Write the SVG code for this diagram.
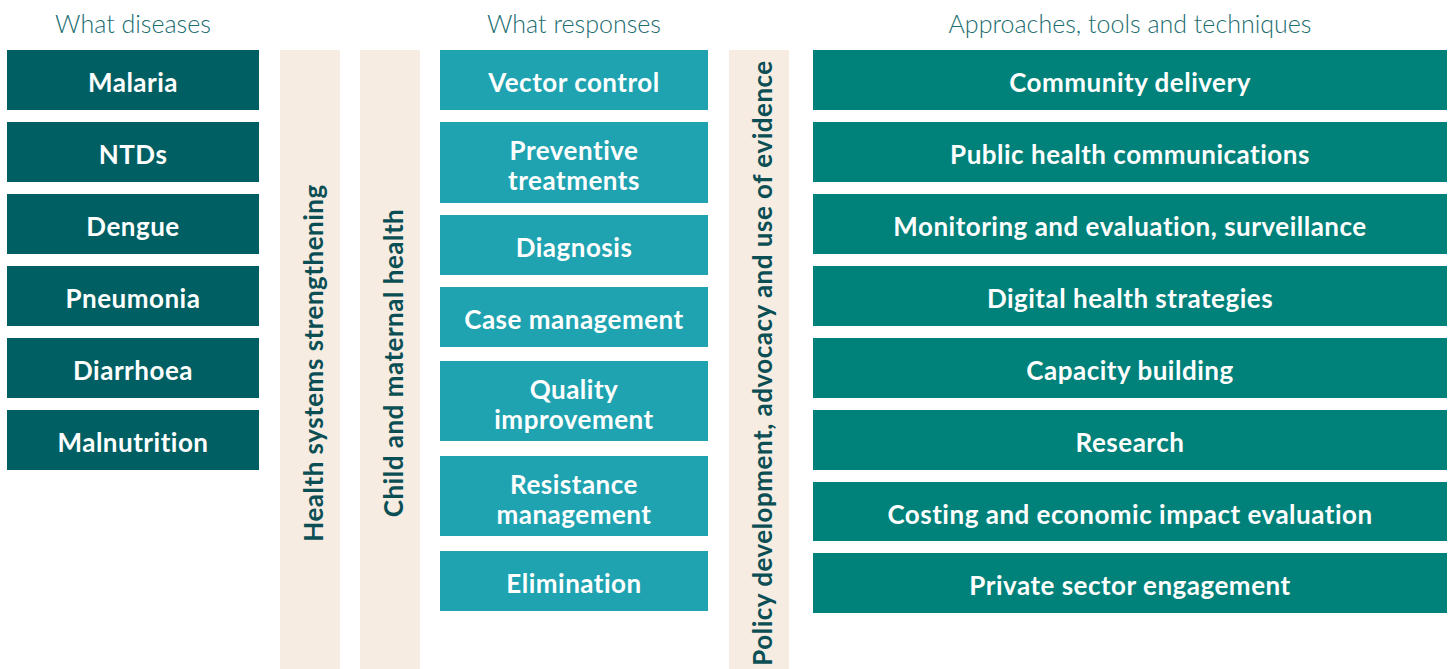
<svg xmlns="http://www.w3.org/2000/svg" width="1448" height="669" viewBox="0 0 1448 669">
<style>
.hd{font-family:Lato,"Open Sans","Liberation Sans",sans-serif;font-weight:300;font-size:25px;fill:#1b6d70;text-anchor:middle}
.t{font-family:Lato,"Open Sans","Liberation Sans",sans-serif;font-weight:700;font-size:26px;letter-spacing:0.5px;fill:#ffffff;text-anchor:middle;dominant-baseline:central}
.v{font-family:Lato,"Open Sans","Liberation Sans",sans-serif;font-weight:700;font-size:26px;letter-spacing:0.5px;fill:#0b4f55;text-anchor:middle;dominant-baseline:central}
.d{fill:#005f63}.r{fill:#1fa3b1}.a{fill:#00817a}.b{fill:#f6ece2}
</style>
<rect width="1448" height="669" fill="#ffffff"/>
<g id="headings">
<text class="hd" x="133" y="33">What diseases</text>
<text class="hd" x="574" y="33">What responses</text>
<text class="hd" x="1130" y="33">Approaches, tools and techniques</text>
</g>
<g id="diseases">
<g id="d1"><rect class="d" x="7" y="50" width="252" height="60"/><text class="t" x="133" y="82">Malaria</text></g>
<g id="d2"><rect class="d" x="7" y="122" width="252" height="60"/><text class="t" x="133" y="154">NTDs</text></g>
<g id="d3"><rect class="d" x="7" y="194" width="252" height="60"/><text class="t" x="133" y="226">Dengue</text></g>
<g id="d4"><rect class="d" x="7" y="266" width="252" height="60"/><text class="t" x="133" y="298">Pneumonia</text></g>
<g id="d5"><rect class="d" x="7" y="338" width="252" height="60"/><text class="t" x="133" y="370">Diarrhoea</text></g>
<g id="d6"><rect class="d" x="7" y="410" width="252" height="60"/><text class="t" x="133" y="442">Malnutrition</text></g>
</g>
<g id="bar-hss"><rect class="b" x="280" y="50" width="60" height="619"/><text class="v" transform="translate(313,363) rotate(-90)">Health systems strengthening</text></g>
<g id="bar-cmh"><rect class="b" x="360" y="50" width="60" height="619"/><text class="v" transform="translate(393,363) rotate(-90)">Child and maternal health</text></g>
<g id="responses">
<g id="r1"><rect class="r" x="440" y="50" width="268" height="60"/><text class="t" x="574" y="82">Vector control</text></g>
<g id="r2"><rect class="r" x="440" y="122" width="268" height="81"/><text class="t" x="574" y="150">Preventive</text><text class="t" x="574" y="180">treatments</text></g>
<g id="r3"><rect class="r" x="440" y="215" width="268" height="60"/><text class="t" x="574" y="247">Diagnosis</text></g>
<g id="r4"><rect class="r" x="440" y="287" width="268" height="60"/><text class="t" x="574" y="319">Case management</text></g>
<g id="r5"><rect class="r" x="440" y="361" width="268" height="80"/><text class="t" x="574" y="389">Quality</text><text class="t" x="574" y="419">improvement</text></g>
<g id="r6"><rect class="r" x="440" y="456" width="268" height="80"/><text class="t" x="574" y="484">Resistance</text><text class="t" x="574" y="514">management</text></g>
<g id="r7"><rect class="r" x="440" y="551" width="268" height="60"/><text class="t" x="574" y="583">Elimination</text></g>
</g>
<g id="bar-policy"><rect class="b" x="729" y="50" width="60" height="619"/><text class="v" transform="translate(762,363) rotate(-90)">Policy development, advocacy and use of evidence</text></g>
<g id="approaches">
<g id="a1"><rect class="a" x="813" y="50" width="634" height="60"/><text class="t" x="1130" y="82">Community delivery</text></g>
<g id="a2"><rect class="a" x="813" y="122" width="634" height="60"/><text class="t" x="1130" y="154">Public health communications</text></g>
<g id="a3"><rect class="a" x="813" y="194" width="634" height="60"/><text class="t" x="1130" y="226">Monitoring and evaluation, surveillance</text></g>
<g id="a4"><rect class="a" x="813" y="266" width="634" height="60"/><text class="t" x="1130" y="298">Digital health strategies</text></g>
<g id="a5"><rect class="a" x="813" y="338" width="634" height="60"/><text class="t" x="1130" y="370">Capacity building</text></g>
<g id="a6"><rect class="a" x="813" y="410" width="634" height="60"/><text class="t" x="1130" y="442">Research</text></g>
<g id="a7"><rect class="a" x="813" y="482" width="634" height="59"/><text class="t" x="1130" y="514">Costing and economic impact evaluation</text></g>
<g id="a8"><rect class="a" x="813" y="553" width="634" height="60"/><text class="t" x="1130" y="585">Private sector engagement</text></g>
</g>
<g id="connectors"/>
</svg>
